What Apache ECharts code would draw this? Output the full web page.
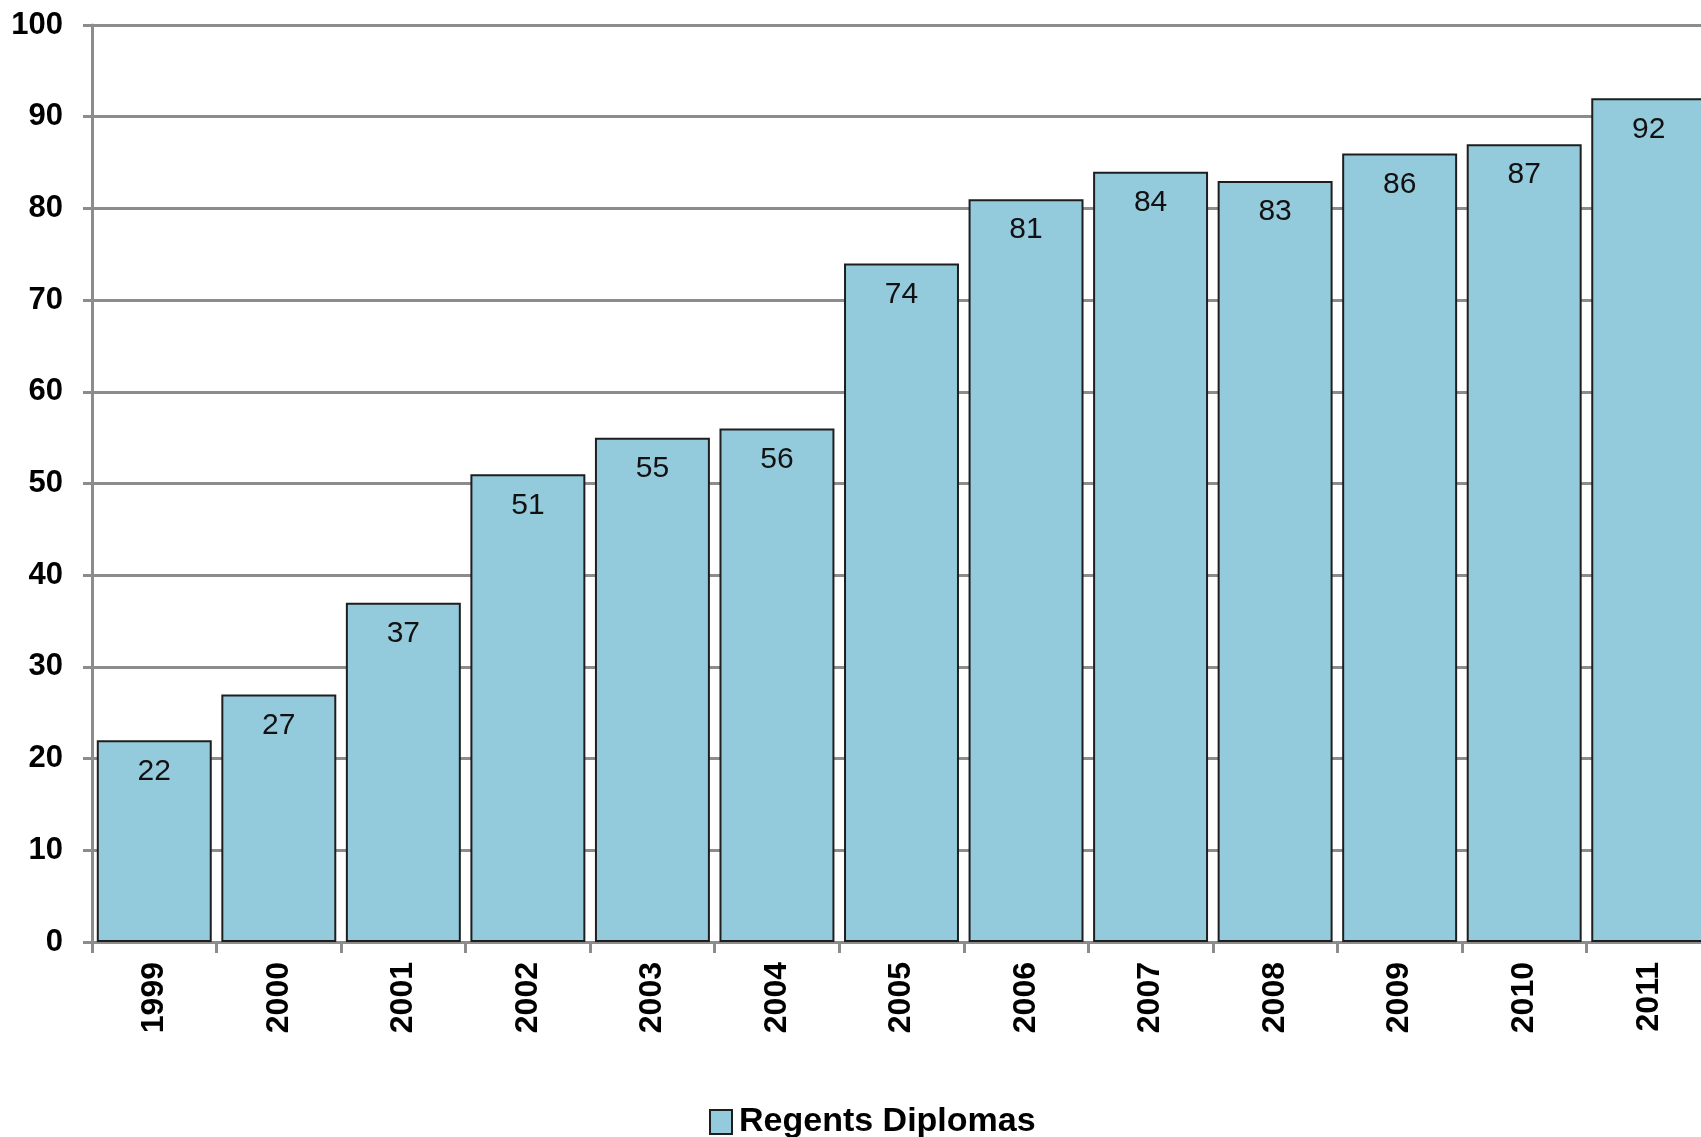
<!DOCTYPE html>
<html>
<head>
<meta charset="utf-8">
<script src="https://cdn.jsdelivr.net/npm/echarts@6/dist/echarts.min.js"></script>
<style>html,body{margin:0;padding:0;background:#fff;overflow:hidden}#c{width:1701px;height:1137px}</style>
</head>
<body>
<div id="c"></div>
<script>
const years = ['1999','2000','2001','2002','2003','2004','2005','2006','2007','2008','2009','2010','2011'];
const regentsDiplomas = [22,27,37,51,55,56,74,81,84,83,86,87,92];
const yTicks = {min:0, max:100, interval:10};

const chart = echarts.init(document.getElementById('c'), null, {renderer:'canvas'});
chart.setOption({
  animation:false,
  backgroundColor:'#fff',
  grid:{left:92, top:25, bottom:195, width:1619, containLabel:false, outerBoundsMode:'none'},
  legend:{
    left:704, top:1100,
    itemWidth:22, itemHeight:24, itemGap:10,
    icon:'rect',
    textStyle:{fontFamily:'Liberation Sans, Arial', fontSize:34, fontWeight:'bold', color:'#000', padding:[0,0,0,2]},
    data:['Regents Diplomas']
  },
  xAxis:{
    type:'category', data:years, boundaryGap:true,
    axisLine:{lineStyle:{color:'#8c8c8c', width:3}},
    axisTick:{show:true, length:11, lineStyle:{color:'#8c8c8c', width:3}},
    axisLabel:{rotate:90, margin:20, fontFamily:'Liberation Sans, Arial', fontSize:32, fontWeight:'bold', color:'#000'}
  },
  yAxis:{
    type:'value', min:yTicks.min, max:yTicks.max, interval:yTicks.interval,
    axisLine:{show:true, lineStyle:{color:'#8c8c8c', width:3}},
    axisTick:{show:true, length:9, lineStyle:{color:'#8c8c8c', width:3}},
    splitLine:{show:true, lineStyle:{color:'#8c8c8c', width:3}},
    axisLabel:{margin:29, fontFamily:'Liberation Sans, Arial', fontSize:31, fontWeight:'bold', color:'#000'}
  },
  series:[{
    name:'Regents Diplomas', type:'bar', data:regentsDiplomas,
    barCategoryGap:'7.7%',
    itemStyle:{color:'#94cbdc', borderColor:'#1e1e1e', borderWidth:2},
    label:{show:true, position:'insideTop', distance:16, fontFamily:'Liberation Sans, Arial', fontSize:30, color:'#111'}
  }]
});
</script>
</body>
</html>
